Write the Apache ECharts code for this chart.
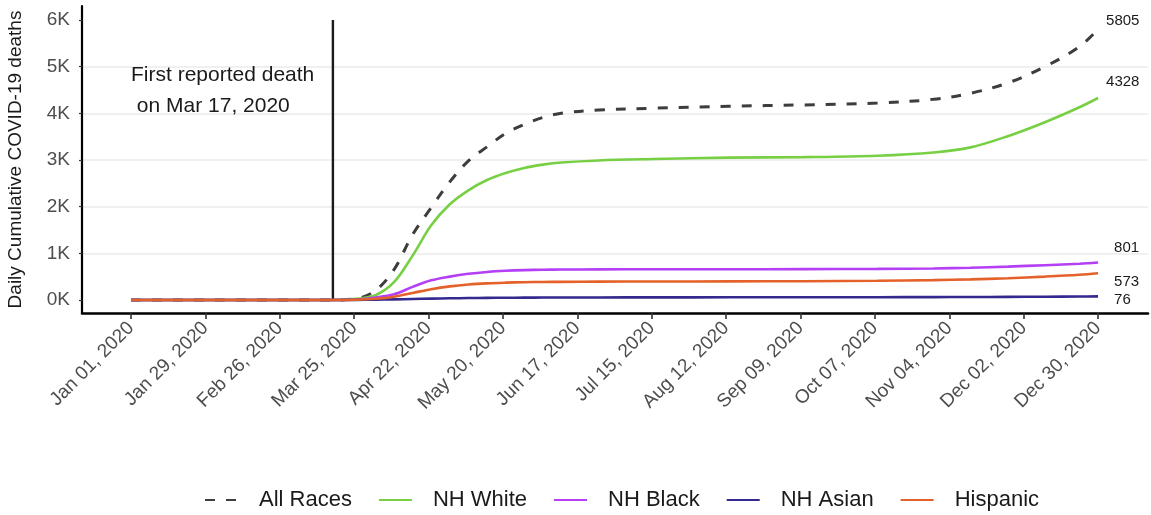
<!DOCTYPE html>
<html>
<head>
<meta charset="utf-8">
<title>Daily Cumulative COVID-19 deaths by race/ethnicity, 2020</title>
<script src="https://cdn.jsdelivr.net/npm/echarts@6/dist/echarts.min.js"></script>
<style>
  html, body { margin: 0; padding: 0; background: #ffffff; }
  #chart { width: 1151px; height: 515px; }
</style>
</head>
<body>
<div id="chart"></div>
<script>
// Sample dates (YYYY-MM-DD) for the cumulative death curves
const DATES = [
  '2020-01-01', '2020-03-17', '2020-03-26', '2020-04-02', '2020-04-09',
  '2020-04-16', '2020-04-23', '2020-04-30', '2020-05-07', '2020-05-14',
  '2020-05-21', '2020-05-28', '2020-06-04', '2020-06-11', '2020-06-25',
  '2020-07-16', '2020-08-13', '2020-09-10', '2020-10-08', '2020-10-29',
  '2020-11-12', '2020-11-26', '2020-12-10', '2020-12-23', '2020-12-30'
];

// Cumulative deaths per group
const ALL_RACES = [0, 0, 30, 200, 650, 1400, 1980, 2530, 2980, 3280, 3570, 3760, 3910, 4000, 4070, 4110, 4150, 4180, 4220, 4300, 4430, 4650, 5000, 5430, 5805];
const NH_WHITE  = [0, 0, 25, 100, 380, 950, 1600, 2050, 2350, 2570, 2720, 2830, 2900, 2945, 2990, 3020, 3050, 3060, 3090, 3160, 3270, 3510, 3810, 4130, 4328];
const NH_BLACK  = [0, 0, 10, 50, 120, 280, 420, 500, 560, 600, 625, 640, 648, 652, 655, 657, 658, 660, 665, 675, 690, 715, 745, 775, 801];
const NH_ASIAN  = [0, 0, 1, 5, 12, 20, 28, 35, 40, 44, 47, 49, 51, 52, 53, 55, 56, 57, 59, 61, 63, 66, 69, 73, 76];
const HISPANIC  = [0, 0, 5, 25, 70, 150, 230, 290, 330, 355, 370, 380, 385, 388, 392, 395, 398, 402, 410, 425, 440, 465, 500, 540, 573];

// Date of the first reported death
const FIRST_DEATH = '2020-03-17';

// X-axis tick dates (every four weeks)
const TICK_DATES = [
  '2020-01-01', '2020-01-29', '2020-02-26', '2020-03-25', '2020-04-22',
  '2020-05-20', '2020-06-17', '2020-07-15', '2020-08-12', '2020-09-09',
  '2020-10-07', '2020-11-04', '2020-12-02', '2020-12-30'
];

// Y-axis tick values
const Y_TICKS = [0, 1000, 2000, 3000, 4000, 5000, 6000];

// The x axis counts days since Jan 1, 2020
const DAY = 86400000;
const MONTHS = ['Jan','Feb','Mar','Apr','May','Jun','Jul','Aug','Sep','Oct','Nov','Dec'];
function dayOf(s) {
  const p = s.split('-').map(Number);
  return Math.round((Date.UTC(p[0], p[1] - 1, p[2]) - Date.UTC(2020, 0, 1)) / DAY);
}
function fmtDay(n) {
  const d = new Date(Date.UTC(2020, 0, 1) + Math.round(n) * DAY);
  const dd = String(d.getUTCDate()).padStart(2, '0');
  return MONTHS[d.getUTCMonth()] + ' ' + dd + ', ' + d.getUTCFullYear();
}
function pairs(values) {
  return DATES.map((d, i) => [dayOf(d), values[i]]);
}

const FONT = "'Liberation Sans', Arial, Helvetica, sans-serif";
const TICK_DAYS = TICK_DATES.map(dayOf);

function endLabel(dx, dy) {
  return {
    show: true,
    position: 'right',
    distance: 8,
    offset: [dx, dy],
    formatter: p => String(p.value[1]),
    color: '#1a1a1a',
    fontFamily: FONT,
    fontSize: 15
  };
}

function lineSeries(name, values, color, opts) {
  return Object.assign({
    name: name,
    type: 'line',
    data: pairs(values),
    showSymbol: false,
    symbol: 'none',
    smooth: 0.35,
    lineStyle: { color: color, width: 2.6 },
    itemStyle: { color: color },
    emphasis: { disabled: true },
    z: 3
  }, opts || {});
}

const chart = echarts.init(document.getElementById('chart'), null, { renderer: 'canvas' });

chart.setOption({
  animation: false,
  backgroundColor: '#ffffff',
  textStyle: { fontFamily: FONT },
  grid: { left: 82, right: 3, top: 6, bottom: 202, containLabel: false, outerBoundsMode: 'none' },
  legend: {
    left: 199,
    top: 484,
    itemWidth: 33,
    itemHeight: 14,
    itemGap: 26,
    itemStyle: { opacity: 0 },
    textStyle: { fontFamily: FONT, fontSize: 22, color: '#1a1a1a', padding: [0, 0, 0, 16] },
    data: ['All Races', 'NH White', 'NH Black', 'NH Asian', 'Hispanic']
  },
  xAxis: {
    type: 'value',
    min: -18.44,
    max: 382.8,
    splitLine: { show: false },
    axisLine: { show: true, onZero: false, lineStyle: { color: '#000000', width: 2.5 } },
    axisTick: {
      show: true,
      length: 6,
      lineStyle: { color: '#333333', width: 1.6 },
      customValues: TICK_DAYS
    },
    axisLabel: {
      rotate: 45,
      margin: 12,
      color: '#4d4d4d',
      fontFamily: FONT,
      fontSize: 19,
      customValues: TICK_DAYS,
      formatter: v => fmtDay(v)
    }
  },
  yAxis: {
    type: 'value',
    min: -280,
    max: 6300,
    name: 'Daily Cumulative COVID-19 deaths',
    nameLocation: 'middle',
    nameRotate: 90,
    nameGap: 57,
    nameTextStyle: { fontFamily: FONT, fontSize: 19, color: '#1a1a1a' },
    axisLine: { show: true, onZero: false, lineStyle: { color: '#000000', width: 2.2 } },
    axisTick: {
      show: true,
      length: 3,
      lineStyle: { color: '#333333', width: 1.2 },
      customValues: Y_TICKS
    },
    axisLabel: {
      margin: 12,
      color: '#4d4d4d',
      fontFamily: FONT,
      fontSize: 19,
      customValues: Y_TICKS,
      formatter: v => (v / 1000) + 'K'
    },
    splitLine: {
      show: true,
      showMinLine: false,
      showMaxLine: false,
      lineStyle: { color: '#ebebeb', width: 1.5 }
    }
  },
  series: [
    // vertical marker and note for the first reported death
    {
      name: 'first-death',
      type: 'line',
      data: [[dayOf(FIRST_DEATH), 0], [dayOf(FIRST_DEATH), 6000]],
      showSymbol: false,
      symbol: 'none',
      lineStyle: { color: '#1a1a1a', width: 2.4 },
      emphasis: { disabled: true },
      z: 2,
      markPoint: {
        symbol: 'circle',
        symbolSize: 0,
        silent: true,
        data: [{
          coord: [0, 4490],
          label: {
            show: true,
            position: 'right',
            distance: 0,
            align: 'left',
            verticalAlign: 'middle',
            formatter: 'First reported death\n on Mar 17, 2020',
            lineHeight: 31,
            fontFamily: FONT,
            fontSize: 21,
            color: '#1a1a1a'
          }
        }]
      }
    },
    lineSeries('All Races', ALL_RACES, '#3d3d3d', {
      lineStyle: { color: '#3d3d3d', width: 3, type: [10, 11] },
      endLabel: endLabel(0, -8)
    }),
    lineSeries('NH White', NH_WHITE, '#77d043', { endLabel: endLabel(0, -16) }),
    lineSeries('NH Black', NH_BLACK, '#b43ff5', { endLabel: endLabel(8, -15) }),
    lineSeries('NH Asian', NH_ASIAN, '#34298e', { endLabel: endLabel(8, 3) }),
    lineSeries('Hispanic', HISPANIC, '#e4622a', { endLabel: endLabel(8, 9) })
  ]
});
</script>
</body>
</html>
